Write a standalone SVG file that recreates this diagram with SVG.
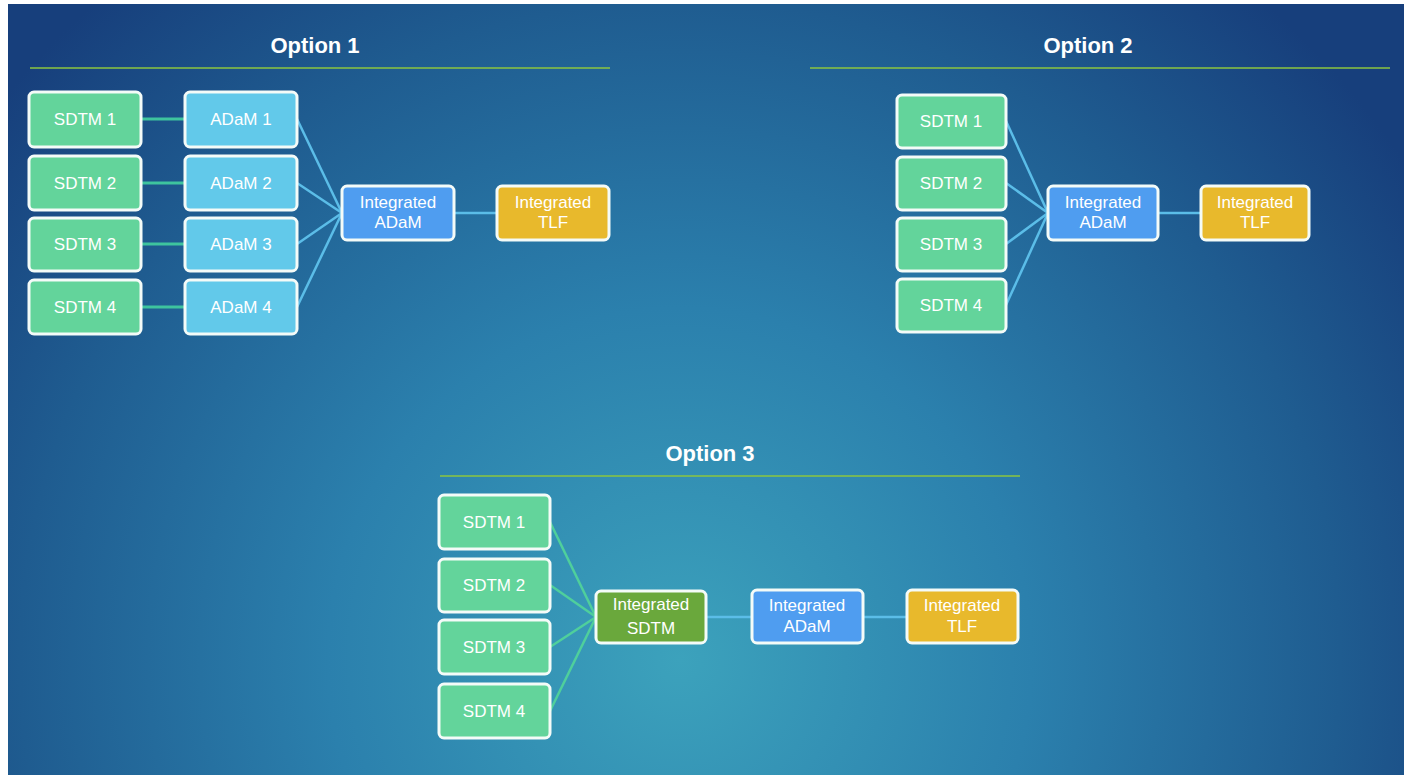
<svg xmlns="http://www.w3.org/2000/svg" width="1404" height="775" viewBox="0 0 1404 775">
<defs>
<radialGradient id="bg" cx="680" cy="660" r="880" gradientUnits="userSpaceOnUse">
<stop offset="0" stop-color="#3ca2bc"/>
<stop offset="0.4" stop-color="#2b80ad"/>
<stop offset="0.75" stop-color="#1f5c90"/>
<stop offset="1" stop-color="#173f7c"/>
</radialGradient>
<style>
.nd rect{stroke:#f4fbf8;stroke-width:3}
.sdtm{fill:#63d49b}
.adam{fill:#62c9ea}
.iadam{fill:#4f9df0}
.tlf{fill:#e8b92c}
.isdtm{fill:#6aa83c}
.t{font-family:"Century Gothic","Liberation Sans",Arial,sans-serif;font-size:17px;fill:#ffffff;text-anchor:middle}
.h{font-family:"Liberation Sans",Arial,sans-serif;font-size:22px;font-weight:bold;fill:#ffffff;text-anchor:middle}
.rule{stroke:#8cc63f;stroke-width:1.5}
.cg{stroke:#3ec49e;stroke-width:3;fill:none}
.cb{stroke:#5bbde8;stroke-width:2.5;fill:none}
.cg3{stroke:#4fcf9c;stroke-width:2.5;fill:none}
</style>
</defs>
<rect x="0" y="0" width="1404" height="775" fill="#ffffff"/>
<rect x="8" y="4" width="1396" height="771" fill="url(#bg)"/>

<g id="titles">
<text class="h" x="315" y="53">Option 1</text>
<line class="rule" x1="30" y1="68" x2="610" y2="68"/>
<text class="h" x="1088" y="53">Option 2</text>
<line class="rule" x1="810" y1="68" x2="1390" y2="68"/>
<text class="h" x="710" y="461">Option 3</text>
<line class="rule" x1="440" y1="476" x2="1020" y2="476"/>
</g>

<g id="connectors">
<line class="cg" x1="141" y1="119" x2="185" y2="119"/>
<line class="cg" x1="141" y1="183" x2="185" y2="183"/>
<line class="cg" x1="141" y1="244" x2="185" y2="244"/>
<line class="cg" x1="141" y1="307" x2="185" y2="307"/>
<line class="cb" x1="297" y1="119" x2="342" y2="213"/>
<line class="cb" x1="297" y1="183" x2="342" y2="213"/>
<line class="cb" x1="297" y1="244" x2="342" y2="213"/>
<line class="cb" x1="297" y1="307" x2="342" y2="213"/>
<line class="cb" x1="454" y1="213" x2="497" y2="213"/>
<line class="cb" x1="1006" y1="121" x2="1048" y2="213"/>
<line class="cb" x1="1006" y1="183" x2="1048" y2="213"/>
<line class="cb" x1="1006" y1="244" x2="1048" y2="213"/>
<line class="cb" x1="1006" y1="305" x2="1048" y2="213"/>
<line class="cb" x1="1158" y1="213" x2="1201" y2="213"/>
<line class="cg3" x1="550" y1="522" x2="596" y2="617"/>
<line class="cg3" x1="550" y1="585" x2="596" y2="617"/>
<line class="cg3" x1="550" y1="647" x2="596" y2="617"/>
<line class="cg3" x1="550" y1="711" x2="596" y2="617"/>
<line class="cb" x1="706" y1="617" x2="752" y2="617"/>
<line class="cb" x1="863" y1="617" x2="907" y2="617"/>
</g>

<g id="o1-sdtm1" class="nd"><rect class="sdtm" x="29" y="92" width="112" height="55" rx="5"/><text class="t" x="85" y="125">SDTM 1</text></g>
<g id="o1-sdtm2" class="nd"><rect class="sdtm" x="29" y="156" width="112" height="54" rx="5"/><text class="t" x="85" y="189">SDTM 2</text></g>
<g id="o1-sdtm3" class="nd"><rect class="sdtm" x="29" y="218" width="112" height="53" rx="5"/><text class="t" x="85" y="250">SDTM 3</text></g>
<g id="o1-sdtm4" class="nd"><rect class="sdtm" x="29" y="280" width="112" height="54" rx="5"/><text class="t" x="85" y="313">SDTM 4</text></g>
<g id="o1-adam1" class="nd"><rect class="adam" x="185" y="92" width="112" height="55" rx="5"/><text class="t" x="241" y="125">ADaM 1</text></g>
<g id="o1-adam2" class="nd"><rect class="adam" x="185" y="156" width="112" height="54" rx="5"/><text class="t" x="241" y="189">ADaM 2</text></g>
<g id="o1-adam3" class="nd"><rect class="adam" x="185" y="218" width="112" height="53" rx="5"/><text class="t" x="241" y="250">ADaM 3</text></g>
<g id="o1-adam4" class="nd"><rect class="adam" x="185" y="280" width="112" height="54" rx="5"/><text class="t" x="241" y="313">ADaM 4</text></g>
<g id="o1-iadam" class="nd"><rect class="iadam" x="342" y="186" width="112" height="54" rx="5"/><text class="t" x="398" y="208">Integrated</text><text class="t" x="398" y="228">ADaM</text></g>
<g id="o1-itlf" class="nd"><rect class="tlf" x="497" y="186" width="112" height="54" rx="5"/><text class="t" x="553" y="208">Integrated</text><text class="t" x="553" y="228">TLF</text></g>

<g id="o2-sdtm1" class="nd"><rect class="sdtm" x="897" y="95" width="109" height="53" rx="5"/><text class="t" x="951" y="127">SDTM 1</text></g>
<g id="o2-sdtm2" class="nd"><rect class="sdtm" x="897" y="157" width="109" height="53" rx="5"/><text class="t" x="951" y="189">SDTM 2</text></g>
<g id="o2-sdtm3" class="nd"><rect class="sdtm" x="897" y="218" width="109" height="53" rx="5"/><text class="t" x="951" y="250">SDTM 3</text></g>
<g id="o2-sdtm4" class="nd"><rect class="sdtm" x="897" y="279" width="109" height="53" rx="5"/><text class="t" x="951" y="311">SDTM 4</text></g>
<g id="o2-iadam" class="nd"><rect class="iadam" x="1048" y="186" width="110" height="54" rx="5"/><text class="t" x="1103" y="208">Integrated</text><text class="t" x="1103" y="228">ADaM</text></g>
<g id="o2-itlf" class="nd"><rect class="tlf" x="1201" y="186" width="108" height="54" rx="5"/><text class="t" x="1255" y="208">Integrated</text><text class="t" x="1255" y="228">TLF</text></g>

<g id="o3-sdtm1" class="nd"><rect class="sdtm" x="439" y="495" width="111" height="54" rx="5"/><text class="t" x="494" y="528">SDTM 1</text></g>
<g id="o3-sdtm2" class="nd"><rect class="sdtm" x="439" y="559" width="111" height="53" rx="5"/><text class="t" x="494" y="591">SDTM 2</text></g>
<g id="o3-sdtm3" class="nd"><rect class="sdtm" x="439" y="620" width="111" height="54" rx="5"/><text class="t" x="494" y="653">SDTM 3</text></g>
<g id="o3-sdtm4" class="nd"><rect class="sdtm" x="439" y="684" width="111" height="54" rx="5"/><text class="t" x="494" y="717">SDTM 4</text></g>
<g id="o3-isdtm" class="nd"><rect class="isdtm" x="596" y="591" width="110" height="52" rx="5"/><text class="t" x="651" y="610">Integrated</text><text class="t" x="651" y="634">SDTM</text></g>
<g id="o3-iadam" class="nd"><rect class="iadam" x="752" y="590" width="111" height="53" rx="5"/><text class="t" x="807" y="611">Integrated</text><text class="t" x="807" y="632">ADaM</text></g>
<g id="o3-itlf" class="nd"><rect class="tlf" x="907" y="590" width="111" height="53" rx="5"/><text class="t" x="962" y="611">Integrated</text><text class="t" x="962" y="632">TLF</text></g>
</svg>
